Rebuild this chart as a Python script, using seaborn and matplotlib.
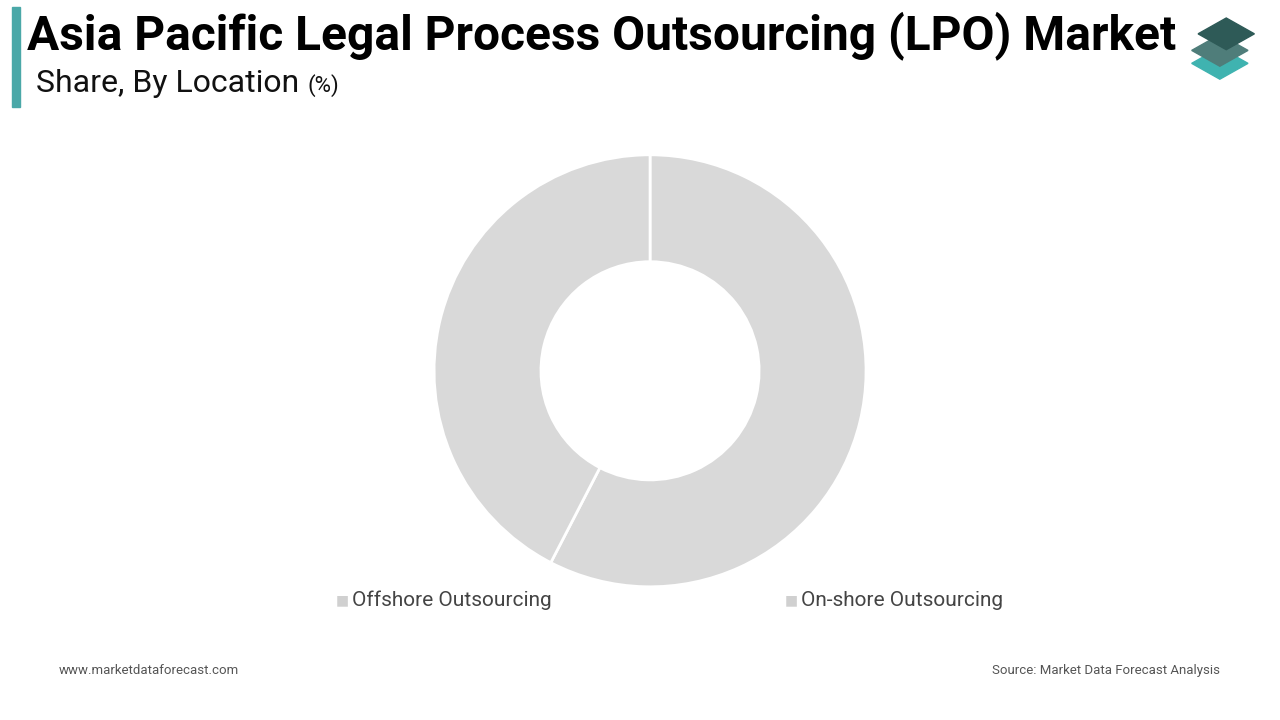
import matplotlib
matplotlib.use("Agg")
import matplotlib.pyplot as plt
import seaborn as sns
from matplotlib.patches import Polygon, Rectangle

sns.set_theme(style="white")
plt.rcParams['font.family'] = ['Roboto', 'DejaVu Sans']

categories = ["Offshore Outsourcing", "On-shore Outsourcing"]
values = [57.6, 42.4]
colors = ["#d9d9d9", "#d9d9d9"]

fig = plt.figure(figsize=(12.8, 7.2), dpi=100)
fig.patch.set_facecolor("white")

# title area
fig.add_artist(Rectangle((0.009, 0.852), 0.007, 0.138, transform=fig.transFigure, color="#4aa8a8"))
fig.text(0.021, 0.950, "Asia Pacific Legal Process Outsourcing (LPO) Market", fontsize=34.5,
         fontweight="bold", va="center", ha="left", color="black")
fig.text(0.028, 0.884, "Share, By Location", fontsize=23, va="center", ha="left", color="#111111")
fig.text(0.240, 0.881, "(%)", fontsize=16, va="center", ha="left", color="#111111")

# logo
def diamond(cx, cy, col):
    w, h = 0.022, 0.022
    fig.add_artist(Polygon([(cx - w, cy), (cx, cy + h), (cx + w, cy), (cx, cy - h)],
                           closed=True, transform=fig.transFigure, color=col))
diamond(0.953, 0.912, "#3fb3b0")
diamond(0.953, 0.930, "#4f7d7a")
diamond(0.958, 0.953, "#2e5a57")

ax = fig.add_axes([0.3391, 0.185, 0.3375, 0.6])
wedges, _ = ax.pie(values, colors=colors, startangle=90, counterclock=False,
                   wedgeprops=dict(width=0.495, edgecolor="white", linewidth=2))
ax.set_xlim(-1.0, 1.0)
ax.set_ylim(-1.0, 1.0)
ax.set_aspect("equal")

fig.text(0.262, 0.166, "■", fontsize=10, color="#d0d0d0", va="center")
fig.text(0.275, 0.166, categories[0], fontsize=15, color="#444444", va="center")
fig.text(0.613, 0.166, "■", fontsize=10, color="#d0d0d0", va="center")
fig.text(0.626, 0.166, categories[1], fontsize=15, color="#444444", va="center")

fig.text(0.046, 0.069, "www.marketdataforecast.com", fontsize=9.5, color="#555555", va="center")
fig.text(0.953, 0.069, "Source: Market Data Forecast Analysis", fontsize=9.5, color="#555555",
         va="center", ha="right")

fig.savefig("out.png", dpi=100, facecolor="white")
